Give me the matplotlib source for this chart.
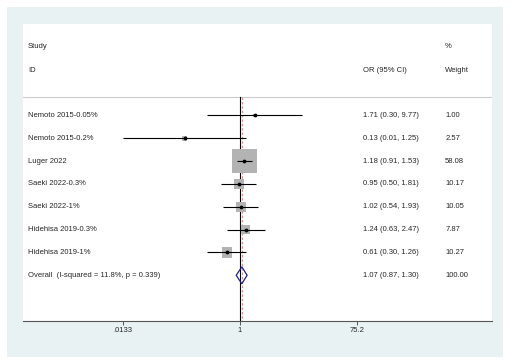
import matplotlib
matplotlib.use('Agg')
import matplotlib.pyplot as plt
import numpy as np
from matplotlib.patches import Polygon, Rectangle

plt.rcParams['font.family'] = ['Liberation Sans', 'DejaVu Sans']
plt.rcParams['font.size'] = 5.5

studies = ['Nemoto 2015-0.05%', 'Nemoto 2015-0.2%', 'Luger 2022', 'Saeki 2022-0.3%',
           'Saeki 2022-1%', 'Hidehisa 2019-0.3%', 'Hidehisa 2019-1%']
or_est  = [1.71, 0.13, 1.18, 0.95, 1.02, 1.24, 0.61]
ci_low  = [0.30, 0.0133, 0.91, 0.50, 0.54, 0.63, 0.30]
ci_high = [9.77, 1.25, 1.53, 1.81, 1.93, 2.47, 1.26]
weights = [1.00, 2.57, 58.08, 10.17, 10.05, 7.87, 10.27]

overall_label = 'Overall  (I-squared = 11.8%, p = 0.339)'
overall_est, overall_low, overall_high = 1.07, 0.87, 1.30

tick_vals = [0.0133, 1, 75.2]
tick_labels = ['.0133', '1', '75.2']

BG = '#e9f2f2'
TXT = '#262626'

fig = plt.figure(figsize=(5.13, 3.64), dpi=100)
fig.patch.set_facecolor('white')
fig.add_artist(Rectangle((7 / 513, 7 / 364), 496 / 513, 350 / 364,
                         transform=fig.transFigure, facecolor=BG, edgecolor='none', zorder=0))

ax = fig.add_axes([23 / 513, 43 / 364, 469 / 513, 297 / 364])
ax.set_facecolor('white')
ax.set_xscale('log')
ax.set_xlim(10 ** -3.477, 10 ** 4.038)
ax.set_ylim(9.0, -4.0)

for s in ['top', 'left', 'right']:
    ax.spines[s].set_visible(False)
ax.spines['bottom'].set_color('#555555')
ax.spines['bottom'].set_linewidth(0.8)
ax.set_yticks([])
ax.set_xticks(tick_vals)
ax.set_xticklabels(tick_labels)
ax.minorticks_off()
ax.tick_params(axis='x', direction='out', length=3, width=0.7, color='#555555',
               labelsize=5.5, labelcolor=TXT, pad=1.5)

rows = np.arange(len(studies))
overall_row = len(studies)

# headers and separator
tr = ax.get_yaxis_transform()
ax.text(0.011, -3.0, 'Study', transform=tr, va='center', color=TXT)
ax.text(0.011, -1.95, 'ID', transform=tr, va='center', color=TXT)
ax.text(0.724, -1.95, 'OR (95% CI)', transform=tr, va='center', color=TXT)
ax.text(0.9, -3.0, '%', transform=tr, va='center', color=TXT)
ax.text(0.9, -1.95, 'Weight', transform=tr, va='center', color=TXT)
ax.axhline(-0.8, color='#cccccc', linewidth=0.8)

# reference lines
ax.plot([1, 1], [-0.8, 9.0], color='black', linewidth=0.8, zorder=2)
ax.plot([overall_est, overall_est], [-0.8, 9.0], color='#e07070', linewidth=0.9,
        linestyle=(0, (2, 1.5)), alpha=0.8, zorder=2)

# study rows
ax.scatter(or_est, rows, s=np.array(weights) * 5.2, marker='s', color='#b3b3b3',
           edgecolors='none', zorder=3)
ax.hlines(rows, ci_low, ci_high, color='black', linewidth=0.8, zorder=4)
ax.scatter(or_est, rows, s=3, color='black', zorder=5)

for r, name, e, lo, hi, w in zip(rows, studies, or_est, ci_low, ci_high, weights):
    ax.text(0.011, r, name, transform=tr, va='center', color=TXT)
    ax.text(0.724, r, f'{e:.2f} ({lo:.2f}, {hi:.2f})', transform=tr, va='center', color=TXT)
    ax.text(0.9, r, f'{w:.2f}', transform=tr, va='center', color=TXT)

# overall
ax.add_patch(Polygon([(overall_low, overall_row), (overall_est, overall_row - 0.37),
                      (overall_high, overall_row), (overall_est, overall_row + 0.37)],
                     closed=True, facecolor='none', edgecolor='#1f1f8f', linewidth=0.9, zorder=4))
ax.text(0.011, overall_row, overall_label, transform=tr, va='center', color=TXT)
ax.text(0.724, overall_row, f'{overall_est:.2f} ({overall_low:.2f}, {overall_high:.2f})',
        transform=tr, va='center', color=TXT)
ax.text(0.9, overall_row, '100.00', transform=tr, va='center', color=TXT)

fig.savefig('out.png', dpi=100, facecolor=fig.get_facecolor())
